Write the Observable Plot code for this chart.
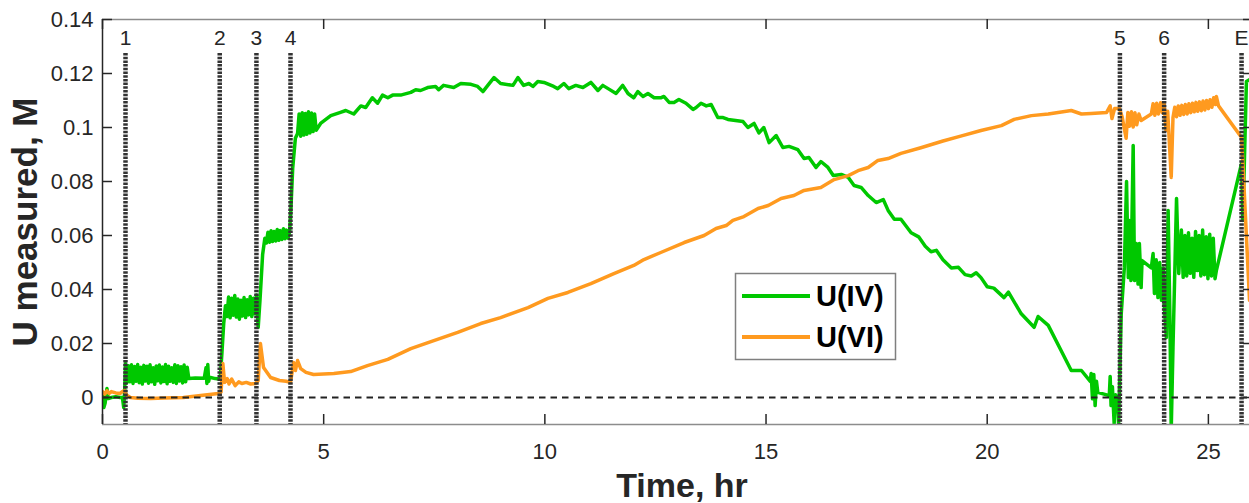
<!DOCTYPE html>
<html><head><meta charset="utf-8">
<script src="https://cdn.jsdelivr.net/npm/d3@7"></script>
<script src="https://cdn.jsdelivr.net/npm/@observablehq/plot@0.6"></script>
<style>
html,body{margin:0;padding:0;background:#fff;}
#chart{position:relative;width:1249px;height:503px;overflow:hidden;}
</style></head><body><div id="chart"></div>
<script>
// U(IV) measured [time hr, concentration M]
const uIV = [
[0,0.0015],[0.03,-0.0037],[0.06,-0.002],[0.1,0.0033],[0.13,-0.0004],[0.2,0.0],[0.3,0.0003],[0.4,0.0],[0.45,0.0],[0.48,-0.0037],[0.5,0.002],[0.52,0.0126],
[0.55,0.0055],[0.585,0.0118],[0.62,0.0058],[0.655,0.0121],[0.69,0.0052],[0.725,0.0115],[0.76,0.0060],[0.795,0.0122],[0.83,0.0055],[0.865,0.0112],[0.90,0.0050],[0.935,0.0119],[0.97,0.0061],[1.005,0.0116],[1.04,0.0053],[1.075,0.0121],[1.11,0.0058],[1.145,0.0110],[1.18,0.0049],[1.215,0.0117],[1.25,0.0062],[1.285,0.0120],[1.32,0.0054],[1.355,0.0113],[1.39,0.0059],[1.425,0.0122],[1.46,0.0051],[1.495,0.0116],[1.53,0.0060],[1.565,0.0110],[1.60,0.0056],[1.635,0.0121],[1.67,0.0052],[1.705,0.0118],[1.74,0.0061],[1.775,0.0114],[1.81,0.0054],[1.845,0.0120],[1.88,0.0058],[1.915,0.0112],[1.95,0.0070],
[2.1,0.0072],[2.3,0.0071],[2.34,0.0110],[2.36,0.0052],[2.38,0.0122],[2.40,0.0060],[2.42,0.0075],[2.55,0.0070],[2.66,0.0068],[2.70,0.0165],[2.74,0.0274],[2.78,0.0340],
[2.815,0.0300],[2.85,0.0372],[2.885,0.0295],[2.92,0.0368],[2.955,0.0305],[2.99,0.0378],[3.025,0.0298],[3.06,0.0365],[3.095,0.0290],[3.13,0.0360],[3.165,0.0302],[3.20,0.0370],[3.235,0.0296],[3.27,0.0362],[3.305,0.0306],[3.34,0.0374],[3.375,0.0300],[3.41,0.0368],[3.445,0.0310],[3.48,0.0380],
[3.52,0.0260],[3.56,0.0360],[3.62,0.0530],[3.67,0.0590],
[3.705,0.0572],[3.74,0.0612],[3.775,0.0575],[3.81,0.0618],[3.845,0.0578],[3.88,0.0615],[3.915,0.0580],[3.95,0.0622],[3.985,0.0582],[4.02,0.0618],[4.055,0.0585],[4.09,0.0625],[4.125,0.0588],[4.16,0.0620],[4.195,0.0590],[4.23,0.0615],
[4.26,0.0700],[4.3,0.0850],[4.36,0.0960],[4.41,0.0978],
[4.445,0.1050],[4.48,0.0968],[4.515,0.1055],[4.55,0.0972],[4.585,0.1052],[4.62,0.0975],[4.655,0.1058],[4.69,0.0980],[4.725,0.1054],[4.76,0.0985],[4.795,0.1050],[4.83,0.0990],
[4.93,0.1015],[5.16,0.1044],[5.38,0.1056],[5.5,0.1063],[5.68,0.1050],[5.84,0.1080],[5.95,0.1074],[6.1,0.1110],[6.22,0.1090],[6.33,0.1120],[6.45,0.1110],[6.56,0.1120],[6.74,0.1120],[6.97,0.1130],[7.08,0.1140],[7.19,0.1137],[7.35,0.1148],[7.53,0.1152],[7.6,0.1140],[7.71,0.1156],[7.94,0.1148],[8.1,0.1163],[8.33,0.1160],[8.48,0.1152],[8.6,0.1133],[8.71,0.1156],[8.85,0.1185],[9.0,0.1163],[9.28,0.1156],[9.39,0.1185],[9.52,0.1156],[9.64,0.1163],[9.73,0.1152],[9.84,0.1170],[9.98,0.1167],[10.2,0.1152],[10.29,0.1144],[10.43,0.1163],[10.54,0.1144],[10.7,0.1156],[10.86,0.1148],[11.04,0.1167],[11.2,0.1137],[11.31,0.1156],[11.43,0.1144],[11.61,0.1126],[11.76,0.1156],[11.88,0.1126],[12.01,0.1110],[12.1,0.1133],[12.22,0.1115],[12.33,0.1126],[12.47,0.1110],[12.62,0.1110],[12.69,0.1115],[12.81,0.1093],[12.92,0.1093],[13.03,0.1104],[13.19,0.1090],[13.35,0.1067],[13.42,0.1074],[13.53,0.1090],[13.65,0.1080],[13.76,0.1085],[13.91,0.1037],[14.03,0.1037],[14.14,0.1030],[14.48,0.1022],[14.59,0.1000],[14.73,0.1015],[14.84,0.0980],[14.95,0.1000],[15.07,0.0944],[15.23,0.0970],[15.38,0.0926],[15.52,0.0930],[15.72,0.0918],[15.86,0.0885],[15.97,0.0889],[16.13,0.0852],[16.24,0.0874],[16.4,0.0852],[16.52,0.0822],[16.7,0.0826],[16.86,0.0815],[16.99,0.0785],[17.15,0.0778],[17.31,0.0748],[17.49,0.0722],[17.65,0.0733],[17.76,0.0693],[17.9,0.0660],[18.05,0.0660],
[18.28,0.0610],[18.45,0.0595],[18.6,0.0560],[18.73,0.0540],[18.85,0.0545],[19.0,0.0510],[19.19,0.0480],[19.35,0.0482],[19.5,0.0455],[19.64,0.0450],[19.75,0.0462],[19.86,0.0444],[20.0,0.0410],[20.15,0.0405],[20.38,0.0370],[20.48,0.0390],[20.77,0.0310],[21.06,0.0260],[21.15,0.0300],[21.38,0.0267],[21.67,0.0174],[21.9,0.0100],[22.13,0.0100],[22.33,0.0060],
[22.35,0.0089],[22.38,-0.0005],[22.41,0.0085],[22.44,-0.003],[22.47,0.006],[22.5,0.0019],[22.76,0.0007],[22.78,0.0078],[22.8,-0.003],[22.83,0.004],[22.87,-0.0096],[22.9,0.001],[22.95,-0.001],[22.97,-0.010],
[23.03,0.031],[23.1,0.048],[23.15,0.080],[23.19,0.0444],[23.22,0.0656],[23.25,0.0433],[23.3,0.0933],[23.33,0.0433],[23.37,0.057],[23.41,0.042],[23.44,0.057],[23.48,0.0407],[23.5,0.0507],
[23.71,0.048],[23.75,0.0533],[23.78,0.0385],[23.82,0.051],[23.86,0.037],[23.9,0.050],[23.94,0.036],[23.98,0.048],[24.0,0.0348],[24.05,0.0222],[24.09,0.0693],[24.13,0.030],[24.16,-0.012],[24.2,0.0185],[24.28,0.0737],[24.33,0.0459],[24.39,0.062],
[24.43,0.0445],[24.47,0.0600],[24.51,0.0450],[24.55,0.0610],[24.59,0.0460],[24.63,0.0590],[24.67,0.0445],[24.71,0.0615],[24.75,0.0470],[24.79,0.0600],[24.83,0.0450],[24.87,0.0620],[24.91,0.0455],[24.95,0.0595],[24.99,0.0440],[25.03,0.0605],[25.07,0.0450],[25.11,0.0590],[25.15,0.0440],[25.18,0.0470],
[25.75,0.0867],[25.78,0.0656],[25.86,0.117],[25.96,0.118]
];
// U(VI) measured [time hr, concentration M]
const uVI = [
[0,0.0022],[0.05,0.0012],[0.1,0.0025],[0.15,0.0015],[0.2,0.0022],[0.3,0.0017],[0.4,0.0015],[0.45,0.0022],[0.5,0.0026],[0.55,0.0008],[0.63,0.0000],[0.8,-0.0003],[1.09,-0.0004],[1.4,-0.0002],[1.83,0.0000],[2.22,0.0007],[2.62,0.0015],[2.68,0.0020],[2.72,0.0126],[2.76,0.0056],[2.82,0.0070],[2.86,0.0050],[2.92,0.0068],[3.0,0.0044],[3.08,0.0058],[3.15,0.0052],[3.25,0.0056],[3.35,0.0050],[3.46,0.0052],[3.52,0.0063],[3.57,0.0200],[3.64,0.0111],[3.8,0.0074],[4.0,0.0063],[4.15,0.0060],[4.25,0.0056],[4.32,0.0130],[4.36,0.0100],[4.41,0.0137],[4.48,0.0107],[4.6,0.0093],[4.77,0.0085],[5.0,0.0087],[5.23,0.0089],[5.61,0.0096],[5.99,0.0118],[6.45,0.0141],[6.97,0.0181],[7.49,0.0211],[8.03,0.0241],[8.55,0.0274],[9.0,0.0296],[9.62,0.0333],[10.07,0.0367],[10.52,0.0389],[11.04,0.0422],[11.56,0.0459],[12.01,0.0489],[12.24,0.0511],[12.62,0.0537],[13.15,0.0574],[13.6,0.0600],[13.87,0.0626],[14.1,0.0637],[14.25,0.0656],[14.5,0.0670],[14.82,0.0700],[15.05,0.0711],[15.34,0.0737],[15.63,0.0748],[15.86,0.0767],[16.24,0.0778],[16.54,0.0807],[16.86,0.0822],[17.08,0.0840],[17.31,0.0852],[17.53,0.0878],[17.76,0.0885],[18.05,0.0904],[18.5,0.0925],[19.0,0.0950],[19.4,0.0968],[19.86,0.0989],[20.32,0.1007],[20.61,0.1030],[21.0,0.1044],[21.38,0.1050],[21.9,0.1063],[22.13,0.1050],[22.35,0.1052],[22.7,0.1056],[22.78,0.1080],[22.82,0.1033],[22.88,0.1070],[22.99,0.1070],[23.05,0.1040],[23.1,0.0996],[23.14,0.0960],[23.18,0.1056],[23.22,0.1005],[23.26,0.1058],[23.3,0.1002],[23.34,0.1055],[23.38,0.1010],[23.43,0.1050],[23.48,0.1026],[23.71,0.1050],[23.75,0.1088],[23.79,0.1045],[23.83,0.1090],[23.87,0.1050],[23.92,0.1092],[23.96,0.1055],[24.0,0.1090],[24.04,0.0990],[24.08,0.1060],[24.16,0.0815],[24.2,0.1037],[24.24,0.1075],[24.28,0.1040],[24.32,0.1080],[24.36,0.1045],[24.4,0.1082],[24.44,0.1048],[24.48,0.1085],[24.52,0.1050],[24.56,0.1088],[24.6,0.1055],[24.64,0.1090],[24.68,0.1058],[24.72,0.1093],[24.76,0.1060],[24.8,0.1095],[24.84,0.1062],[24.88,0.1098],[24.92,0.1065],[24.96,0.1100],[25.0,0.1070],[25.04,0.1103],[25.08,0.1075],[25.12,0.1110],[25.16,0.1085],[25.18,0.1115],[25.23,0.1080],[25.75,0.0963],[25.8,0.0800],[25.93,0.0360]
];
const markerTimes = [0.52, 2.65, 3.48, 4.25, 23.0, 24.0, 25.75];
const markerLabels = ["1","2","3","4","5","6","E"];
const xTicks = [0,5,10,15,20,25];
const xTickLabels = ["0","5","10","15","20","25"];
const yTicks = [0,0.02,0.04,0.06,0.08,0.1,0.12,0.14];
const yTickLabels = ["0","0.02","0.04","0.06","0.08","0.1","0.12","0.14"];
const seriesNames = ["U(IV)","U(VI)"];
const seriesColors = ["#00c800","#ff9a1f"];
const xDomain = [0, 26.02];
const yDomain = [-0.01, 0.14];
const xLabel = "Time, hr";
const yLabel = "U measured, M";

const W=1249, H=503, mL=102, mR=-4, mT=19, mB=79;
const pw = W-mL-mR, ph = H-mT-mB;
const FONT = "'Liberation Sans', Arial, Helvetica, sans-serif";
const markers = markerTimes.map((t,i)=>({t, label: markerLabels[i]}));

const plot = Plot.plot({
  width: W, height: H, marginLeft: mL, marginRight: mR, marginTop: mT, marginBottom: mB,
  style: {fontFamily: FONT, fontSize: "22px", color: "#262626", background: "#fff"},
  x: {domain: xDomain}, y: {domain: yDomain},
  marks: [
    Plot.lineY(uIV, {x: d=>d[0], y: d=>d[1], stroke: seriesColors[0], strokeWidth: 3.5, clip: true}),
    Plot.lineY(uVI, {x: d=>d[0], y: d=>d[1], stroke: seriesColors[1], strokeWidth: 3.5, clip: true}),
    Plot.ruleY([0], {stroke: "#222", strokeWidth: 2, strokeDasharray: "6.5,5"}),
    Plot.ruleX(markers, {x: "t", stroke: "#333", strokeWidth: 4.5, strokeDasharray: "2.5,1.2", insetTop: 34}),
    Plot.text(markers, {x: "t", text: "label", frameAnchor: "top", lineAnchor: "middle", dy: 19, fontSize: 21, fill: "#262626"}),
    Plot.ruleY([yDomain[1]], {stroke: "#8c8c8c", strokeWidth: 1.5}),
    Plot.ruleY([yDomain[0]], {stroke: "#8c8c8c", strokeWidth: 1.5}),
    Plot.ruleX([xDomain[0]], {stroke: "#262626", strokeWidth: 1.5}),
    Plot.ruleY(yTicks, {stroke: "#262626", strokeWidth: 1.5, insetRight: pw-10}),
    Plot.ruleY(yTicks, {stroke: "#262626", strokeWidth: 1.5, insetLeft: pw-10}),
    Plot.ruleX(xTicks, {stroke: "#262626", strokeWidth: 1.5, insetTop: ph-10}),
    Plot.ruleX(xTicks, {stroke: "#262626", strokeWidth: 1.5, insetBottom: ph-10}),
    Plot.axisY(yTicks, {tickSize: 0, tickPadding: 9, tickFormat: d => yTickLabels[yTicks.indexOf(d)], fontSize: 22, label: null}),
    Plot.axisX(xTicks, {tickSize: 0, tickPadding: 19, tickFormat: d => xTickLabels[xTicks.indexOf(d)], fontSize: 22, label: null}),
    Plot.text([yLabel], {text: d=>d, frameAnchor: "left", textAnchor: "middle", lineAnchor: "middle", rotate: -90, dx: -77, fontSize: 35, fontWeight: "bold", fill: "#262626"}),
    Plot.text([xLabel], {text: d=>d, frameAnchor: "bottom", textAnchor: "middle", lineAnchor: "bottom", dy: 72, dx: 4, fontSize: 34, fontWeight: "bold", fill: "#262626"})
  ]
});
document.getElementById("chart").appendChild(plot);

// legend (inside plot area)
const svg = d3.select(plot);
const lg = svg.append("g").attr("font-family", FONT).attr("text-anchor", "start");
lg.append("rect").attr("x", 735.5).attr("y", 273.5).attr("width", 160).attr("height", 86)
  .attr("fill", "#fff").attr("stroke", "#7f7f7f").attr("stroke-width", 1.5);
seriesNames.forEach((n, i) => {
  const y = 296 + i*41;
  lg.append("line").attr("x1", 742).attr("x2", 810).attr("y1", y).attr("y2", y)
    .attr("stroke", seriesColors[i]).attr("stroke-width", 4);
  lg.append("text").attr("x", 816).attr("y", y).attr("dy", "0.36em").attr("text-anchor", "start")
    .attr("font-size", 29).attr("font-weight", "bold").attr("fill", "#000").text(n);
});
</script></body></html>
